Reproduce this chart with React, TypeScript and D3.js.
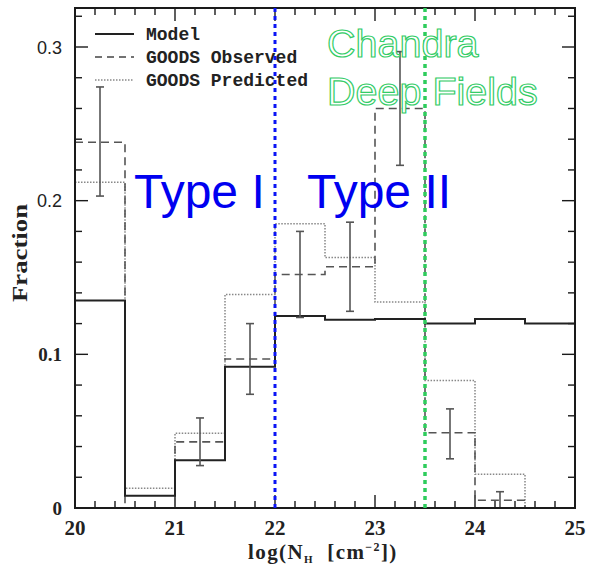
import React from "react";
import * as d3 from "d3";

// Bin edges (log NH)
const binStarts = [20, 20.5, 21, 21.5, 22, 22.5, 23, 23.5, 24, 24.5];
const binEnd = 25;

const modelValues = [0.135, 0.008, 0.031, 0.092, 0.125, 0.1225, 0.123, 0.12, 0.123, 0.12];
const observedValues = [0.238, 0.0, 0.043, 0.097, 0.152, 0.157, 0.26, 0.049, 0.005, 0.0];
const predictedValues = [0.212, 0.0128, 0.0487, 0.139, 0.185, 0.163, 0.134, 0.083, 0.022, 0.0];

// Error bars on observed
const errCenters = [20.25, 21.25, 21.75, 22.25, 22.75, 23.25, 23.75, 24.25];
const errLow = [0.203, 0.0276, 0.074, 0.124, 0.128, 0.223, 0.032, 0.0];
const errHigh = [0.274, 0.0586, 0.12, 0.18, 0.186, 0.297, 0.0645, 0.0106];

const xMajorTicks = [20, 21, 22, 23, 24, 25];
const yMajorTicks = [0, 0.1, 0.2, 0.3];
const yTickLabels = ["0", "0.1", "0.2", "0.3"];

const legendLabels = ["Model", "GOODS Observed", "GOODS Predicted"];
const typeBoundary = 22;
const chandraBoundary = 23.5;

export default function App() {
  const W = 590, H = 569;
  const left = 75, right = 575, top = 8, bottom = 508;
  const x = d3.scaleLinear().domain([20, 25]).range([left, right]);
  const y = d3.scaleLinear().domain([0, 0.3]).range([bottom, 47]);

  const stepPath = (vals: number[]) => {
    const pts: [number, number][] = binStarts.map((b, i) => [b, vals[i]]);
    pts.push([binEnd, vals[vals.length - 1]]);
    return d3
      .line<[number, number]>()
      .x((d) => x(d[0]))
      .y((d) => y(d[1]))
      .curve(d3.curveStepAfter)(pts) as string;
  };

  const xMinor = d3.range(20, 25.001, 0.2).map((v) => +v.toFixed(2));
  const yMinor = d3.range(0, 0.3251, 0.02).map((v) => +v.toFixed(3));
  const isMajorX = (v: number) => Math.abs(v - Math.round(v)) < 1e-6;
  const isMajorY = (v: number) => Math.abs(v * 10 - Math.round(v * 10)) < 1e-6;

  const axisColor = "#1a1a1a";
  const serif = "'Liberation Serif', 'DejaVu Serif', serif";
  const sans = "'Liberation Sans', Arial, sans-serif";
  const mono = "'Liberation Mono', 'DejaVu Sans Mono', monospace";

  const legendStyles = [
    { stroke: "#222", dash: undefined as string | undefined, width: 2 },
    { stroke: "#444", dash: "7,5", width: 1.6 },
    { stroke: "#888", dash: "1.5,1.5", width: 1.5 },
  ];

  return (
    <svg
      width={W}
      height={H}
      style={{ position: "absolute", left: 0, top: 0, background: "#fff" }}
      xmlns="http://www.w3.org/2000/svg"
    >
      <rect x={0} y={0} width={W} height={H} fill="#fff" />

      {/* Ticks: bottom & top */}
      {xMinor.map((v) => {
        const len = isMajorX(v) ? 13 : 7;
        return (
          <g key={"xt" + v} stroke={axisColor} strokeWidth={1.4}>
            <line x1={x(v)} x2={x(v)} y1={bottom} y2={bottom - len} />
            <line x1={x(v)} x2={x(v)} y1={top} y2={top + len} />
          </g>
        );
      })}
      {/* Ticks: left & right */}
      {yMinor.map((v) => {
        const len = isMajorY(v) ? 13 : 7;
        return (
          <g key={"yt" + v} stroke={axisColor} strokeWidth={1.4}>
            <line x1={left} x2={left + len} y1={y(v)} y2={y(v)} />
            <line x1={right} x2={right - len} y1={y(v)} y2={y(v)} />
          </g>
        );
      })}

      {/* Histograms */}
      <path d={stepPath(predictedValues)} fill="none" stroke="#888" strokeWidth={1.5} strokeDasharray="1.5,1.5" />
      <path d={stepPath(observedValues)} fill="none" stroke="#555" strokeWidth={1.6} strokeDasharray="8,5" />
      <path d={stepPath(modelValues)} fill="none" stroke="#222" strokeWidth={2} />

      {/* Error bars */}
      {errCenters.map((c, i) => (
        <g key={"eb" + i} stroke="#555" strokeWidth={1.6}>
          <line x1={x(c)} x2={x(c)} y1={y(errLow[i])} y2={y(errHigh[i])} />
          <line x1={x(c) - 4} x2={x(c) + 4} y1={y(errHigh[i])} y2={y(errHigh[i])} />
          <line x1={x(c) - 4} x2={x(c) + 4} y1={y(errLow[i])} y2={y(errLow[i])} />
        </g>
      ))}

      {/* Frame */}
      <rect x={left} y={top} width={right - left} height={bottom - top} fill="none" stroke={axisColor} strokeWidth={2} />

      {/* Tick labels */}
      {xMajorTicks.map((v) => (
        <text key={"xl" + v} x={x(v)} y={535} textAnchor="middle" fontFamily={serif} fontWeight="bold" fontSize={21} fill="#222">
          {v}
        </text>
      ))}
      {yMajorTicks.map((v, i) => (
        <text
          key={"yl" + v}
          x={62}
          y={y(v) + 6.5}
          textAnchor="end"
          fontFamily={v >= 0.2 ? sans : serif}
          fontWeight={v >= 0.2 ? "normal" : "bold"}
          fontSize={v >= 0.2 ? 18 : 19}
          fill="#222"
        >
          {yTickLabels[i]}
        </text>
      ))}

      {/* Axis titles */}
      <text x={248} y={559} fontFamily={serif} fontWeight="bold" fontSize={21} fill="#222" letterSpacing={1.4} style={{ whiteSpace: "pre" }}>
        log(N
        <tspan fontSize={11} dy={4}>H</tspan>
        <tspan dy={-4}>{"  [cm"}</tspan>
        <tspan fontSize={12} dy={-8}>−2</tspan>
        <tspan dy={8}>])</tspan>
      </text>
      <text
        transform={`translate(27,${253}) rotate(-90)`}
        textAnchor="middle"
        fontFamily={serif}
        fontWeight="bold"
        fontSize={20}
        fill="#222"
        textLength={98}
        lengthAdjust="spacingAndGlyphs"
      >
        Fraction
      </text>

      {/* Legend */}
      {legendLabels.map((lab, i) => {
        const ly = 34 + i * 23;
        const st = legendStyles[i];
        return (
          <g key={"lg" + i}>
            <line x1={95} x2={134} y1={ly} y2={ly} stroke={st.stroke} strokeWidth={st.width} strokeDasharray={st.dash} />
            <text x={146} y={ly + 6} fontFamily={mono} fontWeight="bold" fontSize={18} fill="#222">
              {lab}
            </text>
          </g>
        );
      })}

      {/* Annotation lines */}
      <line x1={x(typeBoundary)} x2={x(typeBoundary)} y1={top} y2={bottom} stroke="#0a14f5" strokeWidth={3} strokeDasharray="4,4" />
      <line x1={x(chandraBoundary)} x2={x(chandraBoundary)} y1={top} y2={bottom} stroke="#2ecc5c" strokeWidth={3.5} strokeDasharray="4,4" />

      {/* Annotation texts */}
      <text x={134} y={208} fontFamily={sans} fontSize={48} fill="#0000f0">Type I</text>
      <text x={307} y={208} fontFamily={sans} fontSize={48} fill="#0000f0">Type II</text>
      <text x={327} y={57} fontFamily={sans} fontSize={39.5} fill="#fff" stroke="#33cc66" strokeWidth={1.2}>
        Chandra
      </text>
      <text x={327} y={105} fontFamily={sans} fontSize={39.5} fill="#fff" stroke="#33cc66" strokeWidth={1.2}>
        Deep Fields
      </text>
    </svg>
  );
}
